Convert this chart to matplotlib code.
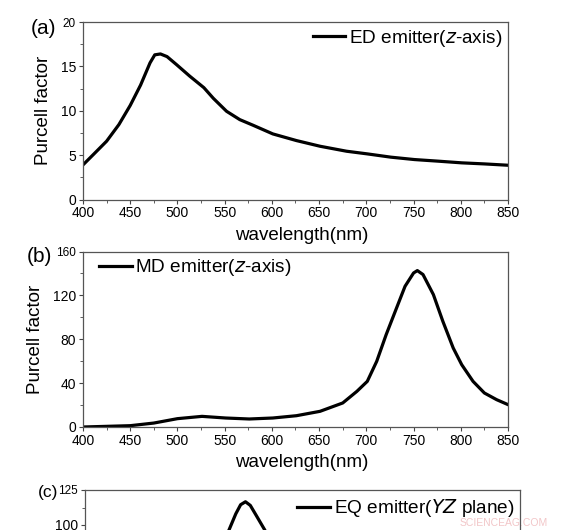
import matplotlib
matplotlib.use("Agg")
import matplotlib.pyplot as plt
from matplotlib.ticker import MultipleLocator

plt.rcParams['font.family'] = ['Liberation Sans', 'DejaVu Sans']

# panel (a): ED emitter
wl_a = [400, 411, 425, 438, 450, 461, 471, 476, 482, 489, 499, 513, 528, 538, 552, 566,
        580, 601, 626, 651, 679, 701, 726, 751, 776, 801, 825, 850]
pf_a = [3.9, 5.07, 6.57, 8.44, 10.6, 12.9, 15.4, 16.3, 16.4, 16.1, 15.2, 13.9, 12.6, 11.4,
        9.94, 9.0, 8.37, 7.39, 6.64, 6.0, 5.44, 5.14, 4.77, 4.5, 4.32, 4.13, 4.01, 3.86]

# panel (b): MD emitter
wl_b = [400, 425, 450, 475, 500, 526, 551, 576, 601, 626, 651, 675, 690, 701, 711, 721,
        732, 741, 750, 754, 760, 771, 781, 792, 801, 813, 825, 838, 850]
pf_b = [0, 0.6, 1.2, 3.6, 7.6, 9.7, 8.2, 7.3, 8.2, 10.3, 14.3, 21.9, 32.5, 41.6, 59.9, 84.2,
        108.5, 128.3, 140.4, 142.6, 139, 120.7, 96.4, 72, 56.8, 41.6, 31, 24.9, 20.4]

# panel (c): EQ emitter (only the top of the peak is visible)
wl_c = [400, 450, 500, 525, 540, 549, 556, 561, 566, 571, 577, 586, 595, 610, 630, 660,
        700, 750, 800, 850]
pf_c = [5, 10, 30, 55, 82, 96.5, 108, 114.5, 116.6, 114, 107, 96.4, 82, 60, 38, 22,
        12, 8, 6, 5]

fig = plt.figure(figsize=(5.64, 5.30), dpi=100)

ax_a = fig.add_axes([83 / 564, 1 - 199.5 / 530, 425 / 564, 177.5 / 530])
ax_b = fig.add_axes([83 / 564, 1 - 427 / 530, 425 / 564, 175.5 / 530])
ax_c = fig.add_axes([85 / 564, 1 - 665 / 530, 435 / 564, 175 / 530])


def style(ax, ymax, ymajor):
    ax.set_xlim(400, 850)
    ax.set_ylim(0, ymax)
    ax.xaxis.set_major_locator(MultipleLocator(50))
    ax.xaxis.set_minor_locator(MultipleLocator(25))
    ax.set_yticks([ymajor * i for i in range(int(ymax / ymajor) + 1)])
    ax.yaxis.set_minor_locator(MultipleLocator(ymajor / 2))
    ax.tick_params(which='major', direction='out', length=3, width=0.8,
                   labelsize=10, pad=2, colors='#444444', labelcolor='black')
    ax.tick_params(which='minor', direction='out', length=2, width=0.6, colors='#444444')
    for s in ax.spines.values():
        s.set_linewidth(0.9)
        s.set_color('#555555')
    # top label is drawn smaller in the original
    ax.yaxis.get_major_ticks()[-1].label1.set_fontsize(8.5)


style(ax_a, 20, 5)
style(ax_b, 160, 40)
style(ax_c, 125, 25)
# only the top of panel (c) lies inside the picture
ax_c.tick_params(labelbottom=False)
ax_c.set_yticklabels(['', '', '', '', '100', '125'])
ax_c.yaxis.get_major_ticks()[-1].label1.set_fontsize(8.5)

ax_a.plot(wl_a, pf_a, color='black', lw=2.3, label='ED emitter($z$-axis)')
ax_b.plot(wl_b, pf_b, color='black', lw=2.3, label='MD emitter($z$-axis)')
ax_c.plot(wl_c, pf_c, color='black', lw=2.3, label='EQ emitter($YZ$ plane)')

for ax in (ax_a, ax_b):
    ax.set_xlabel('wavelength(nm)', fontsize=13.5, labelpad=1)
    ax.xaxis.set_label_coords(0.515, -0.155)
    ax.set_ylabel('Purcell factor', fontsize=13.5, labelpad=6)

leg_kw = dict(frameon=False, fontsize=13.7, handlelength=1.7, handletextpad=0.2,
              borderpad=0.2, borderaxespad=0.1)
ax_a.legend(loc='upper right', bbox_to_anchor=(1.0, 1.0), **leg_kw)
ax_b.legend(loc='upper left', bbox_to_anchor=(0.025, 1.0), **leg_kw)
ax_c.legend(loc='upper right', bbox_to_anchor=(1.0, 0.99), **leg_kw)

fig.text(31 / 564, 1 - 28 / 530, '(a)', fontsize=15, va='center', ha='left')
fig.text(27 / 564, 1 - 257 / 530, '(b)', fontsize=15, va='center', ha='left')
fig.text(38 / 564, 1 - 492 / 530, '(c)', fontsize=12.5, va='center', ha='left')

fig.text(504 / 564, 1 - 523 / 530, 'SCIENCEAG.COM', fontsize=7.5, color='#f2c6c8',
         ha='center', va='center')

fig.savefig('out.png', dpi=100)
